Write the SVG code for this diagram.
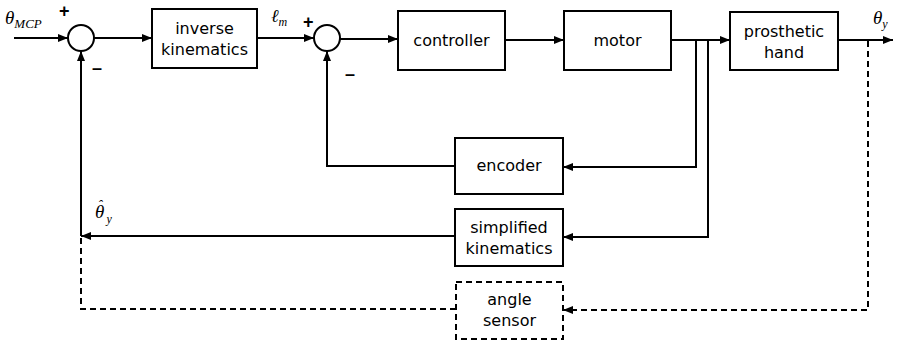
<svg xmlns="http://www.w3.org/2000/svg" width="907" height="345" viewBox="0 0 907 345">
<style>
.box{fill:#fff;stroke:#000;stroke-width:2}
.dbox{fill:#fff;stroke:#000;stroke-width:2;stroke-dasharray:6,4}
.lbl{font-family:"DejaVu Sans",sans-serif;font-size:16px;text-anchor:middle;fill:#000}
.ln{fill:none;stroke:#000;stroke-width:2}
.dl{fill:none;stroke:#000;stroke-width:2;stroke-dasharray:6,4}
.math{font-family:"Liberation Serif",serif;font-style:italic;fill:#000}
.sign{font-family:"Liberation Sans",sans-serif;font-weight:bold;font-size:18px;fill:#000}
</style>
<defs>
<marker id="ah" markerUnits="userSpaceOnUse" markerWidth="10" markerHeight="8" refX="10" refY="4" orient="auto">
<path d="M0,0 L10,4 L0,8 z" fill="#000"/>
</marker>
</defs>
<g id="sum1"><circle cx="81" cy="38" r="13" fill="#fff" stroke="#000" stroke-width="2"/></g>
<g id="sum2"><circle cx="327" cy="38" r="13" fill="#fff" stroke="#000" stroke-width="2"/></g>
<g id="inverse-kinematics"><rect class="box" x="152" y="9" width="105" height="59"/><text class="lbl" x="204.5" y="34">inverse</text><text class="lbl" x="204.5" y="55">kinematics</text></g>
<g id="controller"><rect class="box" x="398" y="11" width="107" height="59"/><text class="lbl" x="451.5" y="46">controller</text></g>
<g id="motor"><rect class="box" x="564" y="11" width="107" height="59"/><text class="lbl" x="617.5" y="46">motor</text></g>
<g id="prosthetic-hand"><rect class="box" x="730" y="12" width="108" height="58"/><text class="lbl" x="784" y="37">prosthetic</text><text class="lbl" x="784" y="58">hand</text></g>
<g id="encoder"><rect class="box" x="455" y="138" width="108" height="56"/><text class="lbl" x="509" y="171">encoder</text></g>
<g id="simplified-kinematics"><rect class="box" x="455" y="209" width="108" height="57"/><text class="lbl" x="509" y="233">simplified</text><text class="lbl" x="509" y="254">kinematics</text></g>
<g id="angle-sensor"><rect class="dbox" x="456" y="282" width="107" height="57"/><text class="lbl" x="509.5" y="305">angle</text><text class="lbl" x="509.5" y="326">sensor</text></g>
<g id="connectors">
<path class="ln" d="M14,38 H68" marker-end="url(#ah)"/>
<path class="ln" d="M94,38 H152" marker-end="url(#ah)"/>
<path class="ln" d="M257,38 H314" marker-end="url(#ah)"/>
<path class="ln" d="M340,39 H398" marker-end="url(#ah)"/>
<path class="ln" d="M505,40 H564" marker-end="url(#ah)"/>
<path class="ln" d="M671,40 H730" marker-end="url(#ah)"/>
<path class="ln" d="M838,40 H893" marker-end="url(#ah)"/>
<path class="ln" d="M696,40 V167 H563" marker-end="url(#ah)"/>
<path class="ln" d="M708,40 V237 H563" marker-end="url(#ah)"/>
<path class="ln" d="M455,166 H327 V51" marker-end="url(#ah)"/>
<path class="ln" d="M455,236 H81" marker-end="url(#ah)"/>
<path class="ln" d="M81,236 V51" marker-end="url(#ah)"/>
<path class="dl" d="M868,41 V310 H563" marker-end="url(#ah)"/>
<path class="dl" d="M456,309 H81 V237"/>
</g>
<g id="labels">
<text class="math" x="5" y="24" font-size="19">θ<tspan font-size="13" dy="4">MCP</tspan></text>
<text class="sign" x="59" y="17">+</text>
<text class="sign" x="92" y="74">–</text>
<text class="math" x="271" y="22" font-size="18">ℓ<tspan font-size="12" dy="4">m</tspan></text>
<text class="sign" x="303" y="28">+</text>
<text class="sign" x="345" y="80">–</text>
<text class="math" x="873" y="24" font-size="19">θ<tspan font-size="12" dy="4">y</tspan></text>
<text class="math" x="95" y="218" font-size="19">θ<tspan font-size="14" dx="-6.5" dy="-8">ˆ</tspan><tspan font-size="12" dx="4" dy="13">y</tspan></text>
</g>
</svg>
